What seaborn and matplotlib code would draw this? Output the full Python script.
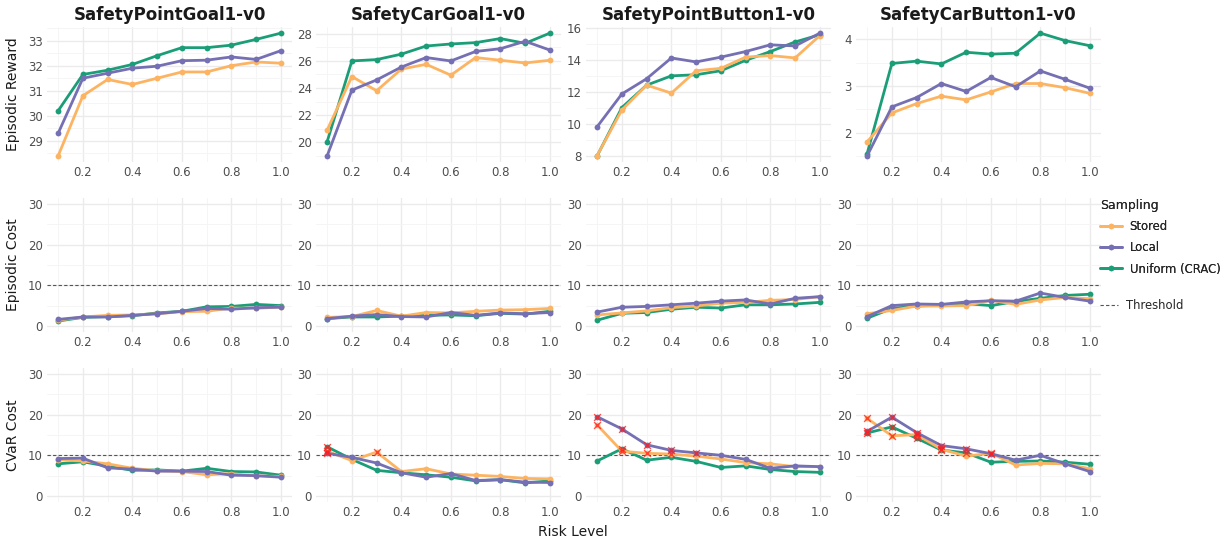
import numpy as np
import pandas as pd
import matplotlib
matplotlib.use("Agg")
import matplotlib.pyplot as plt
from matplotlib.lines import Line2D
from matplotlib.ticker import AutoMinorLocator, FixedLocator
import seaborn as sns

# ---------------------------------------------------------------- data
risk_levels = [0.1, 0.2, 0.3, 0.4, 0.5, 0.6, 0.7, 0.8, 0.9, 1.0]
environments = ["SafetyPointGoal1-v0", "SafetyCarGoal1-v0",
                "SafetyPointButton1-v0", "SafetyCarButton1-v0"]
methods = ["Stored", "Local", "Uniform (CRAC)"]
metrics = ["Episodic Reward", "Episodic Cost", "CVaR Cost"]
cost_threshold = 10

# Episodic reward
point_goal_reward_stored = [28.4, 30.8, 31.45, 31.25, 31.5, 31.75, 31.75, 32.0, 32.15, 32.1]
point_goal_reward_local = [29.3, 31.5, 31.7, 31.9, 31.98, 32.2, 32.22, 32.35, 32.25, 32.6]
point_goal_reward_uniform = [30.2, 31.65, 31.82, 32.05, 32.4, 32.72, 32.72, 32.82, 33.05, 33.3]

car_goal_reward_stored = [20.9, 24.85, 23.8, 25.4, 25.75, 24.95, 26.25, 26.05, 25.85, 26.05]
car_goal_reward_local = [19.0, 23.85, 24.6, 25.55, 26.25, 26.0, 26.7, 26.9, 27.45, 26.8]
car_goal_reward_uniform = [20.05, 26.0, 26.1, 26.5, 27.1, 27.25, 27.35, 27.65, 27.3, 28.05]

point_button_reward_stored = [8.0, 10.85, 12.4, 11.9, 13.3, 13.45, 14.15, 14.25, 14.1, 15.5]
point_button_reward_local = [9.8, 11.85, 12.8, 14.1, 13.85, 14.15, 14.5, 14.92, 14.85, 15.65]
point_button_reward_uniform = [7.98, 11.0, 12.4, 12.98, 13.05, 13.3, 13.95, 14.5, 15.1, 15.55]

car_button_reward_stored = [1.8, 2.42, 2.62, 2.78, 2.7, 2.87, 3.05, 3.05, 2.96, 2.84]
car_button_reward_local = [1.5, 2.55, 2.75, 3.05, 2.88, 3.18, 2.98, 3.32, 3.14, 2.95]
car_button_reward_uniform = [1.55, 3.48, 3.53, 3.47, 3.72, 3.68, 3.7, 4.13, 3.97, 3.86]

# Episodic cost
point_goal_cost_stored = [1.4, 2.2, 2.6, 2.7, 3.0, 3.5, 3.6, 4.4, 4.3, 4.7]
point_goal_cost_local = [1.6, 2.2, 2.2, 2.6, 3.0, 3.6, 4.3, 4.1, 4.5, 4.6]
point_goal_cost_uniform = [1.2, 2.1, 2.3, 2.5, 3.2, 3.6, 4.7, 4.8, 5.3, 5.0]

car_goal_cost_stored = [2.1, 2.3, 3.8, 2.4, 3.3, 3.2, 3.6, 3.9, 4.0, 4.3]
car_goal_cost_local = [1.8, 2.4, 2.8, 2.3, 2.2, 3.3, 2.6, 3.2, 3.0, 3.3]
car_goal_cost_uniform = [1.8, 2.2, 2.2, 2.4, 2.6, 2.7, 2.5, 3.1, 2.9, 3.6]

point_button_cost_stored = [2.7, 3.2, 3.7, 4.5, 4.9, 5.6, 5.8, 6.3, 6.5, 7.2]
point_button_cost_local = [3.4, 4.6, 4.8, 5.2, 5.6, 6.1, 6.4, 5.4, 6.8, 7.2]
point_button_cost_uniform = [1.4, 3.1, 3.3, 4.1, 4.6, 4.4, 5.2, 5.2, 5.4, 5.8]

car_button_cost_stored = [3.0, 3.8, 4.9, 4.9, 5.0, 6.3, 5.3, 6.4, 7.0, 6.7]
car_button_cost_local = [2.3, 5.0, 5.4, 5.3, 5.9, 6.2, 6.1, 8.1, 7.0, 6.1]
car_button_cost_uniform = [1.9, 4.3, 4.9, 5.1, 5.5, 5.0, 6.0, 6.8, 7.5, 7.8]

# CVaR cost
point_goal_cvar_stored = [8.9, 8.6, 7.9, 6.8, 6.2, 6.0, 5.2, 5.5, 4.9, 4.8]
point_goal_cvar_local = [9.2, 9.3, 6.9, 6.6, 6.1, 6.1, 6.0, 5.1, 5.0, 4.6]
point_goal_cvar_uniform = [7.9, 8.4, 7.3, 6.3, 6.4, 6.1, 6.8, 6.0, 5.9, 5.1]

car_goal_cvar_stored = [11.0, 8.7, 10.8, 6.0, 6.7, 5.4, 5.1, 4.8, 4.3, 4.2]
car_goal_cvar_local = [10.5, 9.5, 8.1, 5.7, 4.6, 5.5, 3.8, 4.0, 3.4, 3.3]
car_goal_cvar_uniform = [12.1, 9.0, 6.3, 5.7, 5.2, 4.6, 3.7, 4.0, 3.2, 3.7]

point_button_cvar_stored = [17.5, 11.0, 10.5, 10.3, 9.8, 9.1, 8.2, 7.9, 7.2, 7.2]
point_button_cvar_local = [19.5, 16.5, 12.6, 11.2, 10.6, 10.0, 9.0, 6.8, 7.4, 7.2]
point_button_cvar_uniform = [8.6, 11.6, 8.8, 9.5, 8.5, 7.0, 7.4, 6.5, 6.0, 5.8]

car_button_cvar_stored = [19.1, 14.8, 15.1, 11.5, 9.8, 10.5, 7.6, 8.0, 7.9, 6.7]
car_button_cvar_local = [15.9, 19.4, 15.6, 12.4, 11.6, 10.4, 8.8, 10.0, 7.9, 6.0]
car_button_cvar_uniform = [15.5, 17.0, 14.2, 11.3, 10.6, 8.3, 8.5, 8.6, 8.3, 7.8]

# y-axis breaks for the reward row, one list per environment
reward_ticks_point_goal = [29, 30, 31, 32, 33]
reward_ticks_car_goal = [20, 22, 24, 26, 28]
reward_ticks_point_button = [8, 10, 12, 14, 16]
reward_ticks_car_button = [2, 3, 4]
cost_ticks = [0, 10, 20, 30]
x_ticks = [0.2, 0.4, 0.6, 0.8, 1.0]

# ------------------------------------------------------- long-form table
series = {
    ("Episodic Reward", environments[0]): (point_goal_reward_stored, point_goal_reward_local, point_goal_reward_uniform),
    ("Episodic Reward", environments[1]): (car_goal_reward_stored, car_goal_reward_local, car_goal_reward_uniform),
    ("Episodic Reward", environments[2]): (point_button_reward_stored, point_button_reward_local, point_button_reward_uniform),
    ("Episodic Reward", environments[3]): (car_button_reward_stored, car_button_reward_local, car_button_reward_uniform),
    ("Episodic Cost", environments[0]): (point_goal_cost_stored, point_goal_cost_local, point_goal_cost_uniform),
    ("Episodic Cost", environments[1]): (car_goal_cost_stored, car_goal_cost_local, car_goal_cost_uniform),
    ("Episodic Cost", environments[2]): (point_button_cost_stored, point_button_cost_local, point_button_cost_uniform),
    ("Episodic Cost", environments[3]): (car_button_cost_stored, car_button_cost_local, car_button_cost_uniform),
    ("CVaR Cost", environments[0]): (point_goal_cvar_stored, point_goal_cvar_local, point_goal_cvar_uniform),
    ("CVaR Cost", environments[1]): (car_goal_cvar_stored, car_goal_cvar_local, car_goal_cvar_uniform),
    ("CVaR Cost", environments[2]): (point_button_cvar_stored, point_button_cvar_local, point_button_cvar_uniform),
    ("CVaR Cost", environments[3]): (car_button_cvar_stored, car_button_cvar_local, car_button_cvar_uniform),
}
rows = []
for (metric, env), triple in series.items():
    for method, values in zip(methods, triple):
        for r, v in zip(risk_levels, values):
            rows.append({"metric": metric, "env": env, "Sampling": method,
                         "risk": r, "value": v})
df = pd.DataFrame(rows)

reward_ticks = dict(zip(environments, [reward_ticks_point_goal, reward_ticks_car_goal,
                                       reward_ticks_point_button, reward_ticks_car_button]))

# ---------------------------------------------------------------- style
sns.set_style("white")
plt.rcParams["font.family"] = ["DejaVu Sans"]

palette = {"Stored": "#FDB462", "Local": "#7570B3", "Uniform (CRAC)": "#1B9E77"}
draw_order = ["Uniform (CRAC)", "Stored", "Local"]
grid_major = "#EBEBEB"
grid_minor = "#F4F4F4"
tick_color = "#4D4D4D"

W, H = 1225, 538
fig = plt.figure(figsize=(W / 100, H / 100), dpi=100)

col_left = [47, 316, 586, 856]
panel_w = 245
row_top = [27, 198, 368]
row_h = [135, 134, 134]

for i, metric in enumerate(metrics):
    for j, env in enumerate(environments):
        ax = fig.add_axes([col_left[j] / W, 1 - (row_top[i] + row_h[i]) / H,
                           panel_w / W, row_h[i] / H])
        sub = df[(df.metric == metric) & (df.env == env)]

        sns.lineplot(data=sub, x="risk", y="value", hue="Sampling",
                     hue_order=draw_order, palette=palette, errorbar=None,
                     marker="o", markersize=4.2, markeredgewidth=0,
                     linewidth=2.0, legend=False, ax=ax, zorder=3)

        if metric == "Episodic Reward":
            ax.margins(x=0.05, y=0.05)
            ax.yaxis.set_major_locator(FixedLocator(reward_ticks[env]))
        else:
            ax.axhline(cost_threshold, color="#555555", linestyle=(0, (3, 2)),
                       linewidth=0.8, zorder=2)
            over = sub[sub.value > cost_threshold]
            if len(over):
                sns.scatterplot(data=over, x="risk", y="value", marker="x",
                                color="#FF1A1A", s=24, linewidth=1.0, alpha=0.75,
                                legend=False, ax=ax, zorder=5)
            ax.set_ylim(-1.5, 31.5)
            ax.yaxis.set_major_locator(FixedLocator(cost_ticks))

        ax.set_xlim(0.055, 1.045)
        ax.xaxis.set_major_locator(FixedLocator(x_ticks))
        ax.xaxis.set_minor_locator(AutoMinorLocator(2))
        ax.yaxis.set_minor_locator(AutoMinorLocator(2))
        ax.grid(True, which="major", color=grid_major, linewidth=1.0, zorder=0)
        ax.grid(True, which="minor", color=grid_minor, linewidth=0.6, zorder=0)
        ax.set_axisbelow(True)
        for s in ax.spines.values():
            s.set_visible(False)
        ax.tick_params(which="both", length=0, labelsize=8.5,
                       labelcolor=tick_color, pad=3)
        ax.set_xlabel("")
        if j == 0:
            ax.set_ylabel(metric, fontsize=10, color="#1A1A1A")
            ax.yaxis.set_label_coords(-27 / panel_w, 0.5)
        else:
            ax.set_ylabel("")
        if i == 0:
            ax.set_title(env, fontsize=12, fontweight="bold", color="#1A1A1A", pad=5)

fig.text(573 / W, 1 - 532 / H, "Risk Level", ha="center", va="center",
         fontsize=10, color="#1A1A1A")

# ---------------------------------------------------------------- legends
method_handles = [Line2D([0], [0], color=palette[m], linewidth=2.0, marker="o",
                         markersize=4, markeredgewidth=0) for m in methods]
leg1 = fig.legend(method_handles, methods, title="Sampling", loc="upper left",
                  bbox_to_anchor=(1100 / W, 1 - 199 / H), frameon=False,
                  borderpad=0, borderaxespad=0,
                  fontsize=8.4, title_fontsize=9, handlelength=1.9,
                  handletextpad=0.65, labelspacing=0.7, alignment="left")
thr_handle = [Line2D([0], [0], color="#555555", linestyle=(0, (3, 2)), linewidth=0.8)]
fig.legend(thr_handle, ["Threshold"], loc="upper left",
           bbox_to_anchor=(1100 / W, 1 - 299 / H), frameon=False, fontsize=8.4,
           borderpad=0, borderaxespad=0, handlelength=1.55, handletextpad=0.65)
fig.add_artist(leg1)

fig.savefig("out.png", dpi=100, facecolor="white")
